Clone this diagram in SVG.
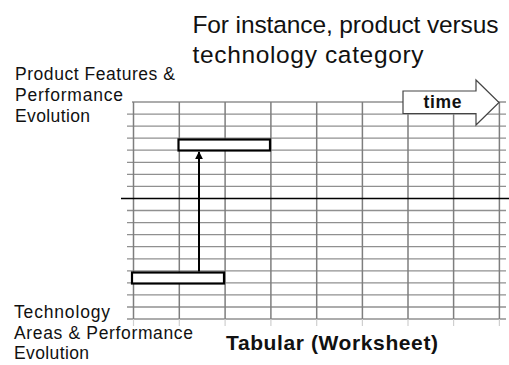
<svg xmlns="http://www.w3.org/2000/svg" width="509" height="365" viewBox="0 0 509 365">
  <style>
    text { font-family: "Liberation Sans", Arial, sans-serif; fill: #111; }
    .title { font-size: 24.5px; }
    .label { font-size: 17.5px; }
    .bold { font-weight: bold; }
    .hline { stroke: #909090; stroke-width: 1.3; }
    .vline { stroke: #7e7e7e; stroke-width: 1.5; }
    .tick { stroke: #cfcfcf; stroke-width: 1.2; }
    .bar { fill: #fff; stroke: #000; stroke-width: 2.2; }
  </style>
  <defs>
    <marker id="head" viewBox="0 0 10 10" refX="9" refY="5" markerWidth="4" markerHeight="4.2" orient="auto" markerUnits="strokeWidth">
      <path d="M0,0 L10,5 L0,10 Z" fill="#000"/>
    </marker>
  </defs>

  <rect width="509" height="365" fill="#fff"/>

  <!-- worksheet grid -->
  <g id="grid">
    <g id="rows">
      <line class="hline" x1="132" y1="102" x2="506" y2="102"/>
      <line class="hline" x1="127" y1="114.1" x2="506" y2="114.1"/>
      <line class="hline" x1="127" y1="126.1" x2="506" y2="126.1"/>
      <line class="hline" x1="127" y1="138.2" x2="506" y2="138.2"/>
      <line class="hline" x1="127" y1="150.2" x2="506" y2="150.2"/>
      <line class="hline" x1="127" y1="162.3" x2="506" y2="162.3"/>
      <line class="hline" x1="127" y1="174.4" x2="506" y2="174.4"/>
      <line class="hline" x1="127" y1="186.4" x2="506" y2="186.4"/>
      <line class="hline" x1="127" y1="210.5" x2="506" y2="210.5"/>
      <line class="hline" x1="127" y1="222.6" x2="506" y2="222.6"/>
      <line class="hline" x1="127" y1="234.6" x2="506" y2="234.6"/>
      <line class="hline" x1="127" y1="246.7" x2="506" y2="246.7"/>
      <line class="hline" x1="127" y1="258.8" x2="506" y2="258.8"/>
      <line class="hline" x1="127" y1="270.8" x2="506" y2="270.8"/>
      <line class="hline" x1="127" y1="282.9" x2="506" y2="282.9"/>
      <line class="hline" x1="127" y1="294.9" x2="506" y2="294.9"/>
      <line class="hline" x1="127" y1="307" x2="506" y2="307"/>
      <line class="hline" x1="127" y1="319" x2="506" y2="319"/>
    </g>
    <g id="columns">
      <line class="vline" x1="133.5" y1="102" x2="133.5" y2="319"/>
      <line class="vline" x1="179.3" y1="102" x2="179.3" y2="319"/>
      <line class="vline" x1="225.1" y1="102" x2="225.1" y2="319"/>
      <line class="vline" x1="270.9" y1="102" x2="270.9" y2="319"/>
      <line class="vline" x1="316.7" y1="102" x2="316.7" y2="319"/>
      <line class="vline" x1="362.4" y1="102" x2="362.4" y2="319"/>
      <line class="vline" x1="408" y1="102" x2="408" y2="319"/>
      <line class="vline" x1="453.6" y1="102" x2="453.6" y2="319"/>
      <line class="vline" x1="499.4" y1="102" x2="499.4" y2="319"/>
    </g>
    <g id="ticks">
      <line class="tick" x1="133.5" y1="319" x2="133.5" y2="326"/>
      <line class="tick" x1="179.3" y1="319" x2="179.3" y2="326"/>
      <line class="tick" x1="225.1" y1="319" x2="225.1" y2="326"/>
      <line class="tick" x1="270.9" y1="319" x2="270.9" y2="326"/>
      <line class="tick" x1="316.7" y1="319" x2="316.7" y2="326"/>
      <line class="tick" x1="362.4" y1="319" x2="362.4" y2="326"/>
      <line class="tick" x1="408" y1="319" x2="408" y2="326"/>
      <line class="tick" x1="453.6" y1="319" x2="453.6" y2="326"/>
      <line class="tick" x1="499.4" y1="319" x2="499.4" y2="326"/>
    </g>
    <!-- dividing axis between product and technology halves -->
    <line id="axis" x1="121" y1="198.5" x2="509" y2="198.5" stroke="#000" stroke-width="1.3"/>
  </g>

  <!-- caption -->
  <g id="caption">
    <text class="title" x="192.5" y="33" textLength="306" lengthAdjust="spacing">For instance, product versus</text>
    <text class="title" x="192.5" y="62.5" textLength="231" lengthAdjust="spacing">technology category</text>
  </g>

  <g id="product-label">
    <text class="label" x="15" y="80" textLength="160" lengthAdjust="spacing">Product Features &amp;</text>
    <text class="label" x="15" y="101" textLength="108" lengthAdjust="spacing">Performance</text>
    <text class="label" x="15" y="121.5" textLength="75" lengthAdjust="spacing">Evolution</text>
  </g>

  <g id="technology-label">
    <text class="label" x="14" y="318" textLength="96" lengthAdjust="spacing">Technology</text>
    <text class="label" x="14" y="339" textLength="179" lengthAdjust="spacing">Areas &amp; Performance</text>
    <text class="label" x="14" y="359" textLength="75" lengthAdjust="spacing">Evolution</text>
  </g>

  <g id="sheet-title">
    <text class="bold" x="226" y="350" font-size="21" textLength="212" lengthAdjust="spacing">Tabular (Worksheet)</text>
  </g>

  <!-- time direction arrow -->
  <g id="time">
    <polygon points="403,91 476,91 476,80 499,102.5 476,125 476,113.5 403,113.5" fill="#fff" stroke="#444" stroke-width="1.2"/>
    <text class="bold" x="423.5" y="108" font-size="17.5" textLength="38" lengthAdjust="spacing">time</text>
  </g>

  <g id="product-bar">
    <rect class="bar" x="178.5" y="139.5" width="91.5" height="11"/>
  </g>

  <g id="technology-bar">
    <rect class="bar" x="132" y="272.5" width="92" height="11"/>
  </g>

  <g id="connectors">
    <line x1="199" y1="271.5" x2="199" y2="152" stroke="#000" stroke-width="2" marker-end="url(#head)"/>
  </g>
</svg>
